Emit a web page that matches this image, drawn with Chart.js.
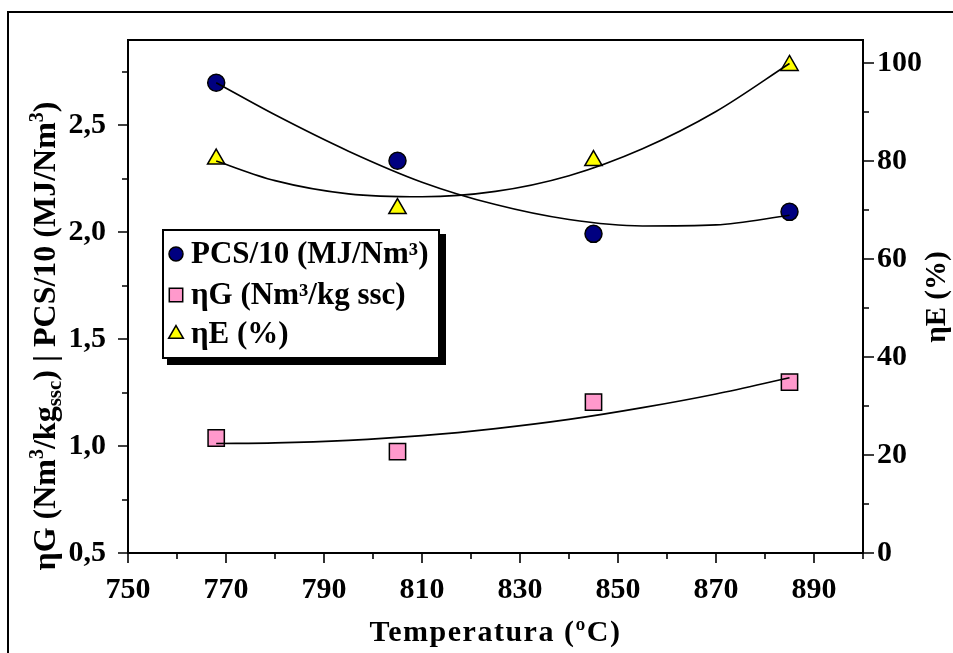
<!DOCTYPE html>
<html>
<head>
<meta charset="utf-8">
<script src="https://cdn.jsdelivr.net/npm/chart.js@4.4.1/dist/chart.umd.min.js"></script>
<style>
html,body{margin:0;padding:0;background:#fff;}
canvas{display:block;}
</style>
</head>
<body>
<canvas id="c" width="953" height="653"></canvas>
<script>
// ---- data ----
const temps = [768, 805, 845, 885];
const pcs = [2.70, 2.335, 1.993, 2.096];          // PCS/10 (MJ/Nm³)
const etaG = [1.038, 0.974, 1.206, 1.299];        // ηG (Nm³/kg ssc)
const etaE = [80.4, 70.3, 80.1, 99.5];            // ηE (%)

const trendT = [768, 780, 795, 810, 825, 840, 855, 870, 885];
const pcsTrend = [2.70, 2.55, 2.38, 2.235, 2.13, 2.06, 2.03, 2.035, 2.08];
const etaGTrend = [1.012, 1.015, 1.027, 1.049, 1.082, 1.125, 1.18, 1.244, 1.32];
const etaETrend = [80.0, 76.0, 73.3, 72.7, 73.8, 77.0, 82.5, 90.1, 99.9];

const xTicks = [750, 770, 790, 810, 830, 850, 870, 890];
const xMinor = [760, 780, 800, 820, 840, 860, 880, 900];
const leftTicks = [0.5, 1.0, 1.5, 2.0, 2.5];
const leftMinor = [0.75, 1.25, 1.75, 2.25, 2.75];
const rightTicks = [0, 20, 40, 60, 80, 100];
const rightMinor = [10, 30, 50, 70, 90];

const legendLabels = ['PCS/10 (MJ/Nm³)', 'ηG (Nm³/kg ssc)', 'ηE (%)'];
const xTitle = 'Temperatura (ºC)';
const rightTitle = 'ηE (%)';

const FONT = '"Liberation Serif", "Times New Roman", serif';
const toPts = (xs, ys) => xs.map((x, i) => ({x: x, y: ys[i]}));

const framePlugin = {
  id: 'frame',
  beforeDraw(chart) {
    const ctx = chart.ctx;
    ctx.save();
    ctx.strokeStyle = '#000';
    ctx.lineWidth = 2;
    ctx.strokeRect(8, 12, 2000, 2000);
    ctx.restore();
  },
  beforeDatasetsDraw(chart) {
    const ctx = chart.ctx;
    const a = chart.chartArea;
    const sx = chart.scales.x, sy = chart.scales.y, sr = chart.scales.y1;
    ctx.save();
    ctx.strokeStyle = '#000';
    ctx.lineWidth = 2;
    ctx.strokeRect(a.left, a.top, a.right - a.left, a.bottom - a.top);
    ctx.lineWidth = 1.6;
    ctx.beginPath();
    xTicks.forEach(v => { const p = Math.round(sx.getPixelForValue(v)); ctx.moveTo(p, a.bottom); ctx.lineTo(p, a.bottom + 10); });
    xMinor.forEach(v => { const p = Math.round(sx.getPixelForValue(v)); ctx.moveTo(p, a.bottom); ctx.lineTo(p, a.bottom + 6); });
    leftTicks.forEach(v => { const p = Math.round(sy.getPixelForValue(v)); ctx.moveTo(a.left, p); ctx.lineTo(a.left - 10, p); });
    leftMinor.forEach(v => { const p = Math.round(sy.getPixelForValue(v)); ctx.moveTo(a.left, p); ctx.lineTo(a.left - 6, p); });
    rightTicks.forEach(v => { const p = Math.round(sr.getPixelForValue(v)); ctx.moveTo(a.right, p); ctx.lineTo(a.right + 11, p); });
    rightMinor.forEach(v => { const p = Math.round(sr.getPixelForValue(v)); ctx.moveTo(a.right, p); ctx.lineTo(a.right + 6, p); });
    ctx.stroke();
    ctx.restore();
  },
  afterDraw(chart) {
    const ctx = chart.ctx;
    const a = chart.chartArea;
    ctx.save();
    ctx.fillStyle = '#000';
    // x title
    ctx.font = 'bold 30px ' + FONT;
    ctx.textAlign = 'center';
    ctx.textBaseline = 'middle';
    try { ctx.letterSpacing = '1.5px'; } catch (e) {}
    ctx.fillText(xTitle, (a.left + a.right) / 2, 633);
    try { ctx.letterSpacing = '0px'; } catch (e) {}
    // right title
    ctx.save();
    ctx.translate(938, 297);
    ctx.rotate(-Math.PI / 2);
    ctx.font = 'bold 29px ' + FONT;
    ctx.fillText(rightTitle, 0, 0);
    ctx.restore();
    // left title (rich text)
    const segs = [
      {t: 'ηG (Nm', s: 32, dy: 0},
      {t: '3', s: 20, dy: -12},
      {t: '/kg', s: 32, dy: 0},
      {t: 'ssc', s: 21, dy: 6},
      {t: ') | PCS/10 (MJ/Nm', s: 32, dy: 0},
      {t: '3', s: 20, dy: -12},
      {t: ')', s: 32, dy: 0}
    ];
    let total = 0;
    segs.forEach(sg => { ctx.font = 'bold ' + sg.s + 'px ' + FONT; sg.w = ctx.measureText(sg.t).width; total += sg.w; });
    ctx.save();
    ctx.translate(44, 336);
    ctx.rotate(-Math.PI / 2);
    ctx.textAlign = 'left';
    ctx.textBaseline = 'alphabetic';
    let cx = -total / 2;
    segs.forEach(sg => { ctx.font = 'bold ' + sg.s + 'px ' + FONT; ctx.fillText(sg.t, cx, 11 + sg.dy); cx += sg.w; });
    ctx.restore();

    // legend
    const bx = 163, by = 230, bw = 276, bh = 128;
    ctx.fillStyle = '#000';
    ctx.fillRect(bx + 4, by + 4, bw + 3, bh + 3);
    ctx.fillStyle = '#fff';
    ctx.fillRect(bx, by, bw, bh);
    ctx.strokeStyle = '#000';
    ctx.lineWidth = 2;
    ctx.strokeRect(bx, by, bw, bh);
    const rows = [254, 295, 334];
    const ds = chart.data.datasets;
    const legendRadius = [7, 9.5, 8.5];
    [0, 1, 2].forEach(i => {
      const d = ds[i];
      ctx.fillStyle = d.backgroundColor;
      ctx.strokeStyle = d.borderColor;
      ctx.lineWidth = 1.5;
      Chart.helpers.drawPoint(ctx, {pointStyle: d.pointStyle, radius: legendRadius[i], rotation: 0, borderWidth: 1.5}, 176, rows[i]);
      ctx.fillStyle = '#000';
      ctx.font = 'bold 31px ' + FONT;
      ctx.textAlign = 'left';
      ctx.textBaseline = 'middle';
      ctx.fillText(legendLabels[i], 191, rows[i] + 1);
    });
    ctx.restore();
  }
};

const tickFont = {family: FONT, size: 30, weight: 'bold'};

new Chart(document.getElementById('c'), {
  type: 'scatter',
  data: {
    datasets: [
      {label: legendLabels[0], data: toPts(temps, pcs), yAxisID: 'y', pointStyle: 'circle', pointRadius: 8.5,
       backgroundColor: '#000080', borderColor: '#000', borderWidth: 1.5, order: 1},
      {label: legendLabels[1], data: toPts(temps, etaG), yAxisID: 'y', pointStyle: 'rect', pointRadius: 11.5,
       backgroundColor: '#FF99CC', borderColor: '#000', borderWidth: 1.5, order: 1},
      {label: legendLabels[2], data: toPts(temps, etaE), yAxisID: 'y1', pointStyle: 'triangle', pointRadius: 10,
       backgroundColor: '#FFFF00', borderColor: '#000', borderWidth: 1.5, order: 1},
      {label: 'pcs trend', type: 'line', data: toPts(trendT, pcsTrend), yAxisID: 'y', showLine: true, pointRadius: 0,
       borderColor: '#000', borderWidth: 1.6, cubicInterpolationMode: 'monotone', fill: false, order: 0},
      {label: 'etaG trend', type: 'line', data: toPts(trendT, etaGTrend), yAxisID: 'y', showLine: true, pointRadius: 0,
       borderColor: '#000', borderWidth: 1.6, cubicInterpolationMode: 'monotone', fill: false, order: 0},
      {label: 'etaE trend', type: 'line', data: toPts(trendT, etaETrend), yAxisID: 'y1', showLine: true, pointRadius: 0,
       borderColor: '#000', borderWidth: 1.6, cubicInterpolationMode: 'monotone', fill: false, order: 0}
    ]
  },
  options: {
    responsive: false,
    animation: false,
    devicePixelRatio: 1,
    layout: {padding: {top: 36, left: 0, right: 0, bottom: 0}},
    plugins: {legend: {display: false}, tooltip: {enabled: false}, title: {display: false}},
    scales: {
      x: {
        type: 'linear', min: 750, max: 900,
        afterBuildTicks: s => { s.ticks = xTicks.map(v => ({value: v})); },
        afterFit: s => { s.height = 100; },
        grid: {display: false, drawTicks: false},
        border: {display: false},
        ticks: {font: tickFont, color: '#000', padding: 19, maxRotation: 0, autoSkip: false,
                callback: v => String(v)}
      },
      y: {
        type: 'linear', position: 'left', min: 0.5, max: 2.9,
        afterBuildTicks: s => { s.ticks = leftTicks.map(v => ({value: v})); },
        afterFit: s => { s.width = 128; },
        grid: {display: false, drawTicks: false},
        border: {display: false},
        ticks: {font: tickFont, color: '#000', padding: 22, autoSkip: false,
                callback: v => Number(v).toFixed(1).replace('.', ',')}
      },
      y1: {
        type: 'linear', position: 'right', min: 0, max: 104.7,
        afterBuildTicks: s => { s.ticks = rightTicks.map(v => ({value: v})); },
        afterFit: s => { s.width = 90; },
        grid: {display: false, drawTicks: false},
        border: {display: false},
        ticks: {font: tickFont, color: '#000', padding: 14, autoSkip: false,
                callback: v => String(v)}
      }
    }
  },
  plugins: [framePlugin]
});
</script>
</body>
</html>
